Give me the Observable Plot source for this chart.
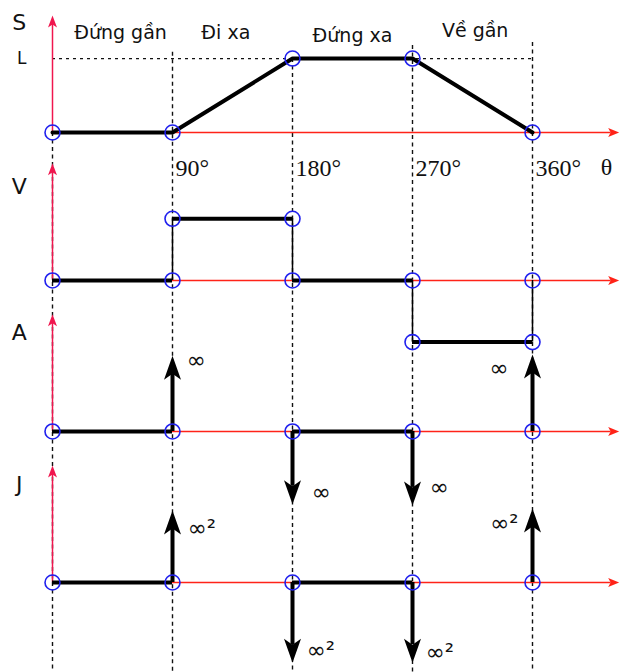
<!DOCTYPE html>
<html>
<head>
<meta charset="utf-8">
<script src="https://cdn.jsdelivr.net/npm/d3@7"></script>
<script src="https://cdn.jsdelivr.net/npm/@observablehq/plot@0.6"></script>
<style>
  body { margin: 0; background: #fff; }
</style>
</head>
<body>
<div id="chart"></div>
<script>
// ---- Cam follower motion: displacement S, velocity V, acceleration A, jerk J ----
const phaseNames  = ["Đứng gần", "Đi xa", "Đứng xa", "Về gần"];
const phaseBounds = [0, 90, 180, 270, 360];          // θ (degrees)
const tickAngles  = [90, 180, 270, 360];
const tickLabels  = ["90°", "180°", "270°", "360°"];
const panelNames  = ["S", "V", "A", "J"];
const L = 1.2;                                       // stroke (lift)
const sValues     = [0, 0, L, L, 0];                 // S at each phase bound
const vLevels     = [0, 1, 0, -1];                   // V during each phase
const dwellPhases = [0, 2];                          // phases where the follower rests
const impulseAngles = [90, 180, 270, 360];
const aImpulses   = [1.23, -1.18, -1.2, 1.25];       // drawn height of the A impulses
const aLabels     = ["∞", "∞", "∞", "∞"];
const jImpulses   = [1.17, -1.3, -1.3, 1.2];         // drawn height of the J impulses
const jLabels     = ["∞²", "∞²", "∞²", "∞²"];

// ---- layout ----
const base = {S: 0, V: -2.4, A: -4.85, J: -7.3};     // zero line of each panel
const unitPx = 450 / 7.3;                            // pixels per y unit
const axisHeight = 1.9;
const thetaMax = 425;
const guideTop = [0, 1.3, L, 1.41, 1.46];
const degPerPx = 90 / 120;

const red = "#ff2318", pink = "#f0164e", blue = "#2020ee";
const sans = "'DejaVu Sans', Verdana, sans-serif";
const serif = "'Liberation Serif', 'Times New Roman', serif";

// filled arrowhead with a notched back; tip at the origin
function head(len, half, notch, dir) {
  const pts = [[0, 0], [-half, len], [0, len - notch], [half, len]];
  const t = dir === "up" ? ([a, b]) => [a, b]
          : dir === "down" ? ([a, b]) => [a, -b]
          : ([a, b]) => [-b, a];
  return {
    draw(ctx) {
      const p = pts.map(t);
      ctx.moveTo(p[0][0], p[0][1]);
      for (let i = 1; i < p.length; ++i) ctx.lineTo(p[i][0], p[i][1]);
      ctx.closePath();
    }
  };
}

// V: level segments, jumps, and their end points
const vSegments = vLevels.map((v, i) => ({x1: phaseBounds[i], x2: phaseBounds[i + 1], v}));
const vJumps = vLevels.map((v, i) => ({x: phaseBounds[i + 1], from: v, to: vLevels[(i + 1) % vLevels.length]}))
  .filter(d => d.from !== d.to);
const vPoints = [];
vSegments.forEach(s => { vPoints.push({x: s.x1, v: s.v}, {x: s.x2, v: s.v}); });
vPoints.push({x: 360, v: vLevels[0]});
const vDots = Array.from(new Map(vPoints.map(d => [d.x + ":" + d.v, d])).values());

// impulse tables
const impulses = [
  ...impulseAngles.map((x, i) => ({panel: "A", x, h: aImpulses[i], label: aLabels[i]})),
  ...impulseAngles.map((x, i) => ({panel: "J", x, h: jImpulses[i], label: jLabels[i]}))
];
const headLen = 24, headHalf = 8.5, headNotch = 6;

// dwell segments on A and J
const dwell = [];
for (const p of ["A", "J"]) for (const i of dwellPhases) dwell.push({panel: p, x1: phaseBounds[i], x2: phaseBounds[i + 1]});

// zero-level markers on A and J
const zeroDots = [];
for (const p of ["A", "J"]) for (const x of phaseBounds) zeroDots.push({panel: p, x});

// label placement next to the impulses: [dx, y offset, anchor]
const impulseLabelPos = {
  A: [[14, 1.15, "start"], [19, -1.0, "start"], [17, -0.91, "start"], [-24, 1.02, "end"]],
  J: [[15, 0.88, "start"], [14, -1.1, "start"], [13, -1.14, "start"], [-14, 0.96, "end"]]
};
const impulseText = impulses.map(d => {
  const i = impulseAngles.indexOf(d.x);
  const [dx, y, anchor] = impulseLabelPos[d.panel][i];
  return {...d, dx, y: base[d.panel] + y, anchor};
});
const impulseLabelMarks = impulseText.map(d => Plot.text([d], {
  x: "x", y: "y", text: "label", dx: d.dx, textAnchor: d.anchor,
  fontFamily: sans, fontSize: 23, fill: "#111"
}));

const panelLabelY = {S: 1.78, V: 1.52, A: 1.6, J: 1.59};
const phaseTitleShift = [6, -5, 0, 2];               // degrees off the phase middle
const phaseTitleY = [1.61, 1.61, 1.57, 1.64];
const phaseMid = phaseNames.map((n, i) => ({
  name: n, x: (phaseBounds[i] + phaseBounds[i + 1]) / 2 + phaseTitleShift[i], y: phaseTitleY[i]
}));

const chart = Plot.plot({
  width: 620,
  height: 672,
  margin: 0,
  style: {background: "white", overflow: "visible"},
  x: {domain: [0, 360], range: [52, 532], axis: null},
  y: {domain: [0, -7.3], range: [132, 582], axis: null},
  marks: [
    // dashed guides at the phase bounds
    Plot.ruleX(phaseBounds, {x: d => d, y1: (d, i) => guideTop[i], y2: () => -9,
      stroke: "#111", strokeWidth: 1.4, strokeDasharray: "4,3.5"}),
    // dotted line at the stroke L
    Plot.ruleY([L], {y: d => d, x1: 0, x2: 360, stroke: "#111", strokeWidth: 1.2, strokeDasharray: "3,4"}),

    // horizontal θ axes
    Plot.ruleY(panelNames, {y: p => base[p], x1: 0, x2: thetaMax - 8 * degPerPx, stroke: red, strokeWidth: 1.5}),
    Plot.dot(panelNames, {x: () => thetaMax, y: p => base[p], symbol: head(11, 4.5, 2.5, "right"),
      fill: red, stroke: "none", r: 5}),
    // vertical value axes
    Plot.ruleX(panelNames, {x: () => 0, y1: p => base[p], y2: p => base[p] + axisHeight - 8 / unitPx,
      stroke: pink, strokeWidth: 1.5}),
    Plot.dot(panelNames, {x: () => 0, y: p => base[p] + axisHeight, symbol: head(12, 4.5, 3, "up"),
      fill: pink, stroke: "none", r: 5}),

    // S: displacement
    Plot.line(phaseBounds, {x: d => d, y: (d, i) => base.S + sValues[i], stroke: "#000", strokeWidth: 4,
      strokeLinejoin: "miter"}),
    // V: velocity levels and jumps
    Plot.ruleY(vSegments, {x1: "x1", x2: "x2", y: d => base.V + d.v, stroke: "#000", strokeWidth: 4}),
    Plot.ruleX(vJumps, {x: "x", y1: d => base.V + d.from, y2: d => base.V + d.to, stroke: "#000", strokeWidth: 1.5}),
    // A and J: zero during dwells
    Plot.ruleY(dwell, {x1: "x1", x2: "x2", y: d => base[d.panel], stroke: "#000", strokeWidth: 4}),

    // impulses
    Plot.ruleX(impulses, {x: "x", y1: d => base[d.panel],
      y2: d => base[d.panel] + d.h - Math.sign(d.h) * (headLen - headNotch) / unitPx,
      stroke: "#000", strokeWidth: 4}),
    Plot.dot(impulses.filter(d => d.h > 0), {x: "x", y: d => base[d.panel] + d.h,
      symbol: head(headLen, headHalf, headNotch, "up"), fill: "#000", stroke: "none", r: 5}),
    Plot.dot(impulses.filter(d => d.h < 0), {x: "x", y: d => base[d.panel] + d.h,
      symbol: head(headLen, headHalf, headNotch, "down"), fill: "#000", stroke: "none", r: 5}),

    // phase bound markers
    Plot.dot(phaseBounds, {x: d => d, y: (d, i) => base.S + sValues[i], r: 7.5, stroke: blue, strokeWidth: 1.6, fill: "none"}),
    Plot.dot(vDots, {x: "x", y: d => base.V + d.v, r: 7.5, stroke: blue, strokeWidth: 1.6, fill: "none"}),
    Plot.dot(zeroDots, {x: "x", y: d => base[d.panel], r: 7.5, stroke: blue, strokeWidth: 1.6, fill: "none"}),

    // text
    Plot.text(phaseMid, {x: "x", y: "y", text: "name", fontFamily: sans, fontSize: 19, fill: "#111"}),
    Plot.text(panelNames, {x: () => -25, y: p => base[p] + panelLabelY[p], text: d => d,
      fontFamily: sans, fontSize: 22, fill: "#111"}),
    Plot.text(["L"], {x: () => -23, y: () => L, text: d => d, fontFamily: sans, fontSize: 17, fill: "#111"}),
    Plot.text(tickAngles, {x: d => d, y: () => -0.58, text: (d, i) => tickLabels[i], textAnchor: "start", dx: 3,
      fontFamily: serif, fontSize: 24, fill: "#111"}),
    Plot.text(["θ"], {x: () => (606 - 52) * degPerPx, y: () => -0.56, text: d => d,
      fontFamily: serif, fontSize: 24, fill: "#111"}),
    ...impulseLabelMarks
  ]
});

document.getElementById("chart").appendChild(chart);
</script>
</body>
</html>
